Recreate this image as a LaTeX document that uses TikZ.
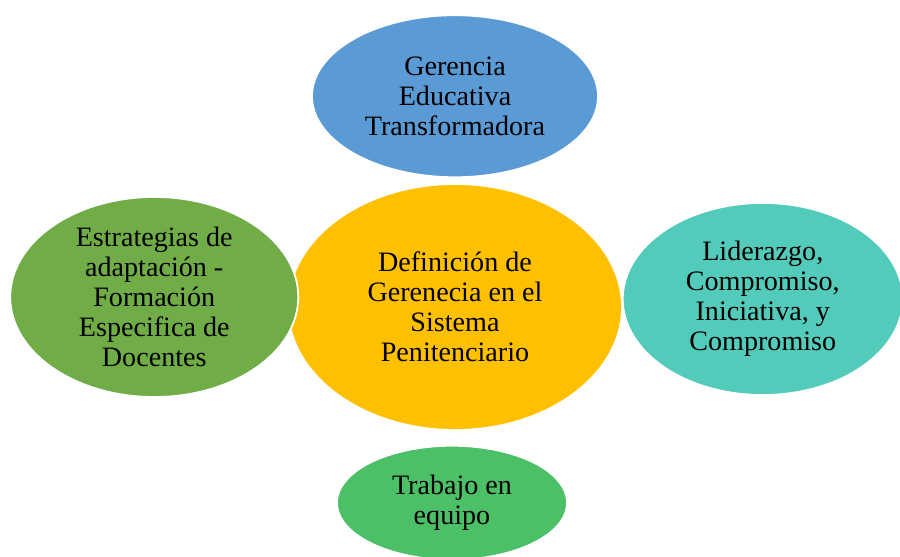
\documentclass[tikz,border=0pt]{standalone}
\usepackage{fontspec}
\setmainfont{Liberation Serif}
\usepackage{tikz}
\usetikzlibrary{shapes.geometric,positioning}
\definecolor{myblue}{RGB}{91,155,213}
\definecolor{myyellow}{RGB}{255,192,0}
\definecolor{myolive}{RGB}{112,173,71}
\definecolor{myteal}{RGB}{82,203,186}
\definecolor{mygreen}{RGB}{75,192,102}
\tikzstyle{idea}=[ellipse,draw=white,line width=1pt,inner sep=0pt,align=center,font=\fontsize{16}{17}\selectfont]

\begin{document}
\begin{tikzpicture}
\useasboundingbox (0,0) rectangle (18,11.14);
\node [idea,fill=myyellow,minimum width=6.68cm,minimum height=4.92cm] (def) at (9.1,5.0) {Definición de\\Gerenecia en el\\Sistema\\Penitenciario};
\node [idea,fill=myblue,minimum width=5.72cm,minimum height=3.24cm] [above=0.1cm of def] (gerencia) {Gerencia\\Educativa\\Transformadora};
\node [idea,fill=myolive,minimum width=5.76cm,minimum height=4cm] [left=-0.24cm of def,yshift=0.2cm] (estrategias) {Estrategias de\\adaptación -\\Formación\\Especifica de\\Docentes};
\node [idea,fill=myteal,minimum width=5.6cm,minimum height=3.84cm] [right=-0.02cm of def,yshift=0.16cm] (liderazgo) {Liderazgo,\\Compromiso,\\Iniciativa, y\\Compromiso};
\node [idea,fill=mygreen,minimum width=4.6cm,minimum height=2.28cm] [below=0.28cm of def,xshift=-0.06cm] (trabajo) {Trabajo en\\equipo};
\end{tikzpicture}
\end{document}
